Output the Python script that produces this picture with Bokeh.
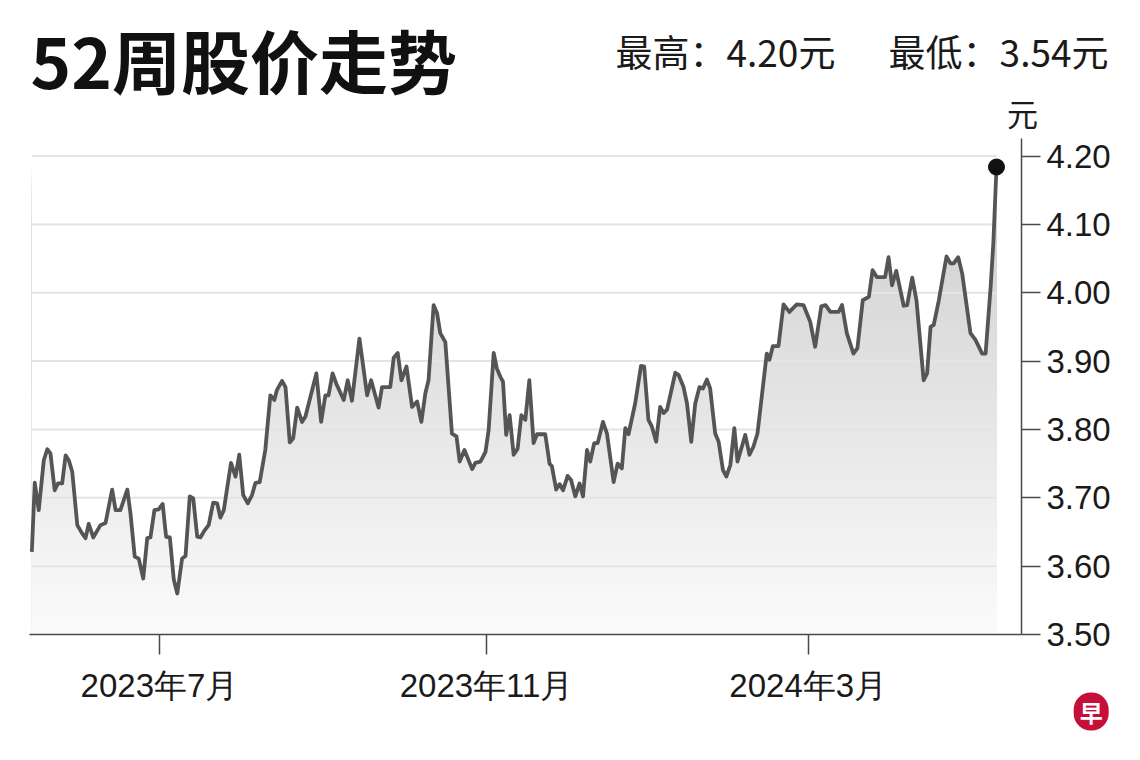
import numpy as np
from bokeh.plotting import figure
from bokeh.layouts import column
from bokeh.models import Range1d, FixedTicker, NumeralTickFormatter, Label
from bokeh.core.properties import value
from bokeh.embed import file_html
from bokeh.resources import INLINE

# ---------------- data ----------------
title_text = "52周股价走势"
high_text = "最高：4.20元"
low_text = "最低：3.54元"
unit_text = "元"
logo_text = "早"

# calendar days since 2023-05-14
days = [0, 1.1, 2.6, 4.5, 5.8, 7.0, 8.6, 9.8, 11.4, 12.7, 13.9, 15.2, 17.1, 18.9, 20.2, 21.4, 23.1, 25.8, 27.7,
        30.2, 31.5, 33.3, 34.6, 35.9, 37.1, 38.7, 40.2, 41.9, 43.4, 44.6, 46.1, 47.7, 49.2, 50.5, 51.9, 53.4,
        54.7, 56.5, 57.8, 59.4, 60.7, 62.2, 63.4, 64.9, 66.5, 68.2, 69.7, 70.9, 72.2, 74.9, 76.6, 78.0, 79.5,
        81.2, 82.8, 84.1, 85.7, 87.8, 89.7, 91.2, 92.2, 94.1, 95.4, 97.0, 98.3, 99.8, 101.6, 102.9, 107.0,
        108.8, 110.4, 111.6, 113.1, 114.5, 117.3, 118.8, 120.4, 123.2, 126.1, 127.6, 130.4, 131.7, 134.8,
        136.1, 137.6, 139.0, 140.9, 143.0, 144.9, 146.5, 148.0, 149.2, 151.1, 152.4, 153.6, 155.5, 158.0,
        159.7, 160.9, 162.7, 165.6, 166.8, 168.7, 170.6, 171.8, 173.7, 174.9, 176.2, 177.2, 178.4, 179.7,
        181.2, 182.7, 184.1, 185.6, 187.1, 188.7, 190.0, 193.1, 194.7, 195.6, 197.2, 198.5, 199.8, 201.5,
        202.8, 204.4, 206.0, 207.3, 208.8, 210.0, 211.5, 212.8, 214.8, 216.3, 218.8, 220.3, 221.9, 223.2,
        224.4, 226.9, 229.1, 230.3, 231.9, 233.2, 234.8, 236.3, 237.6, 238.9, 242.0, 243.2, 245.1, 246.4,
        248.0, 249.5, 251.1, 252.4, 253.9, 255.1, 257.0, 258.3, 259.9, 261.2, 262.7, 264.2, 265.4, 268.3,
        269.9, 271.4, 272.9, 276.4, 277.4, 278.7, 280.8, 282.7, 284.9, 287.7, 290.2, 292.7, 294.6, 296.9,
        298.5, 300.3, 303.4, 304.7, 306.5, 309.0, 310.5, 312.5, 314.8, 316.2, 317.8, 320.9, 322.2, 323.5,
        325.1, 327.9, 329.2, 331.1, 332.7, 335.4, 336.7, 338.0, 339.2, 341.1, 344.0, 345.5, 346.7, 348.4,
        349.9, 353.0, 354.9, 357.4, 358.7, 360.6, 361.6, 362.8]

prices = [3.621, 3.722, 3.682, 3.755, 3.771, 3.765, 3.711, 3.721, 3.721, 3.762, 3.755, 3.738, 3.660, 3.648,
          3.641, 3.662, 3.642, 3.660, 3.663, 3.712, 3.682, 3.682, 3.697, 3.712, 3.677, 3.614, 3.611, 3.582,
          3.641, 3.642, 3.682, 3.683, 3.691, 3.643, 3.642, 3.580, 3.560, 3.611, 3.615, 3.702, 3.699, 3.643,
          3.642, 3.652, 3.660, 3.693, 3.692, 3.671, 3.682, 3.751, 3.731, 3.763, 3.704, 3.692, 3.704, 3.722,
          3.723, 3.770, 3.850, 3.843, 3.858, 3.871, 3.862, 3.781, 3.787, 3.832, 3.811, 3.819, 3.882, 3.811,
          3.850, 3.850, 3.882, 3.867, 3.843, 3.872, 3.842, 3.933, 3.850, 3.872, 3.832, 3.862, 3.862, 3.905,
          3.912, 3.872, 3.892, 3.833, 3.841, 3.811, 3.853, 3.872, 3.982, 3.970, 3.941, 3.928, 3.794, 3.790,
          3.753, 3.770, 3.742, 3.751, 3.753, 3.767, 3.799, 3.912, 3.889, 3.877, 3.870, 3.792, 3.821, 3.763,
          3.772, 3.821, 3.814, 3.872, 3.780, 3.793, 3.793, 3.750, 3.746, 3.712, 3.720, 3.711, 3.732, 3.726,
          3.702, 3.721, 3.702, 3.770, 3.753, 3.780, 3.780, 3.811, 3.794, 3.723, 3.750, 3.743, 3.802, 3.793,
          3.838, 3.893, 3.892, 3.814, 3.804, 3.782, 3.833, 3.824, 3.829, 3.883, 3.880, 3.862, 3.838, 3.782,
          3.838, 3.862, 3.860, 3.873, 3.860, 3.794, 3.782, 3.741, 3.731, 3.748, 3.802, 3.753, 3.792, 3.763,
          3.775, 3.794, 3.911, 3.902, 3.922, 3.922, 3.983, 3.972, 3.983, 3.982, 3.958, 3.921, 3.980, 3.982,
          3.972, 3.972, 3.982, 3.941, 3.911, 3.919, 3.989, 3.994, 4.033, 4.023, 4.023, 4.052, 4.011, 4.032,
          3.981, 3.982, 4.022, 3.989, 3.872, 3.882, 3.950, 3.953, 3.989, 4.053, 4.043, 4.043, 4.052, 4.028,
          3.941, 3.931, 3.911, 3.911, 4.009, 4.072, 4.184]

month_ticks = [48, 171, 292]
month_labels = ["2023年7月", "2023年11月", "2024年3月"]
price_ticks = [3.50, 3.60, 3.70, 3.80, 3.90, 4.00, 4.10, 4.20]

W = 1132
HEAD_H = 138

# ---------------- header (title + high/low + unit) ----------------
h = figure(width=W, height=HEAD_H, output_backend="svg", toolbar_location=None,
           x_range=Range1d(0, W), y_range=Range1d(HEAD_H, 0),
           x_axis_type=None, y_axis_type=None,
           min_border=0, min_border_left=0, min_border_right=0, min_border_top=0, min_border_bottom=0)
h.frame_align = False
h.outline_line_color = None
h.grid.visible = False
h.text(x=[30], y=[58], text=[title_text], text_font=value("Noto Sans CJK SC"),
       text_font_size="69px", text_font_style="bold", text_color="#111111",
       text_align="left", text_baseline="middle")
h.text(x=[615], y=[50], text=[high_text], text_font=value("Noto Sans CJK SC"),
       text_font_size="37px", text_color="#1a1a1a", text_align="left", text_baseline="middle")
h.text(x=[1108], y=[50], text=[low_text], text_font=value("Noto Sans CJK SC"),
       text_font_size="37px", text_color="#1a1a1a", text_align="right", text_baseline="middle")
h.text(x=[1022], y=[112], text=[unit_text], text_font=value("Noto Sans CJK SC"),
       text_font_size="31px", text_color="#1a1a1a", text_align="center", text_baseline="middle")

# ---------------- main chart ----------------
y_low, y_high = 3.50, 4.2257
p = figure(width=W, height=752 - HEAD_H, output_backend="svg", toolbar_location=None,
           x_range=Range1d(-0.88, 372.2), y_range=Range1d(y_low, y_high),
           y_axis_location="right",
           min_border_left=29, min_border_right=111, min_border_top=0, min_border_bottom=118)
p.frame_align = False
p.outline_line_color = None
p.background_fill_color = "white"
p.border_fill_color = "white"
p.xgrid.visible = False
p.ygrid.visible = False

axis_color = "#4a4a4a"
for ax in (p.xaxis[0], p.yaxis[0]):
    ax.axis_line_color = axis_color
    ax.axis_line_width = 1.5
    ax.major_tick_line_color = axis_color
    ax.major_tick_line_width = 1.5
    ax.major_tick_in = 0
    ax.minor_tick_line_color = None
    ax.major_label_text_font = "Liberation Sans"
    ax.major_label_text_font_size = "33px"
    ax.major_label_text_color = "#1a1a1a"

p.xaxis.ticker = FixedTicker(ticks=month_ticks)
p.xaxis.major_label_overrides = {t: l for t, l in zip(month_ticks, month_labels)}
p.xaxis.major_tick_out = 20
p.xaxis.major_label_standoff = 12

p.yaxis.ticker = FixedTicker(ticks=price_ticks)
p.yaxis.formatter = NumeralTickFormatter(format="0.00")
p.yaxis.major_tick_out = 19
p.yaxis.major_label_standoff = 6

# gradient area under the line: nested bands, then white mask above the line
pr = np.array(prices)
n_bands = 60
levels = np.linspace(y_low, pr.max(), n_bands + 1)[1:]
top_gray, bottom_gray = 206, 252
fr = (levels - y_low) / (pr.max() - y_low)
grays = (bottom_gray + (top_gray - bottom_gray) * fr).astype(int)
colors = ["#%02x%02x%02x" % (g, g, g) for g in grays]
order = np.argsort(-levels)
p.quad(left=days[0], right=days[-1], bottom=y_low, top=levels[order],
       fill_color=[colors[i] for i in order], line_color=None)
p.varea(x=days, y1=prices, y2=y_high + 0.1, fill_color="white")

# grid lines over the data span
grid_vals = price_ticks[1:]
p.segment(x0=days[0], x1=days[-1], y0=grid_vals, y1=grid_vals, line_color="#e4e4e4", line_width=2)

# price line and last point
p.line(days, prices, line_color="#555555", line_width=3.8, line_join="round")
p.scatter([days[-1]], [prices[-1]], size=16, fill_color="#111111", line_color="#111111")

# logo, placed in the bottom side panel (not clipped to the frame)
p.add_layout(Label(x=398.4, y=3.3873, x_units="data", y_units="data", text=logo_text,
                   text_font="Noto Sans CJK SC", text_font_size="23px", text_font_style="bold",
                   text_color="white", text_align="center", text_baseline="middle",
                   background_fill_color="#c5103a", border_radius=17,
                   padding=dict(left=6, right=6, top=2, bottom=2)), "below")

layout = column(h, p, spacing=0)
open("out.html", "w").write(file_html(layout, INLINE))
